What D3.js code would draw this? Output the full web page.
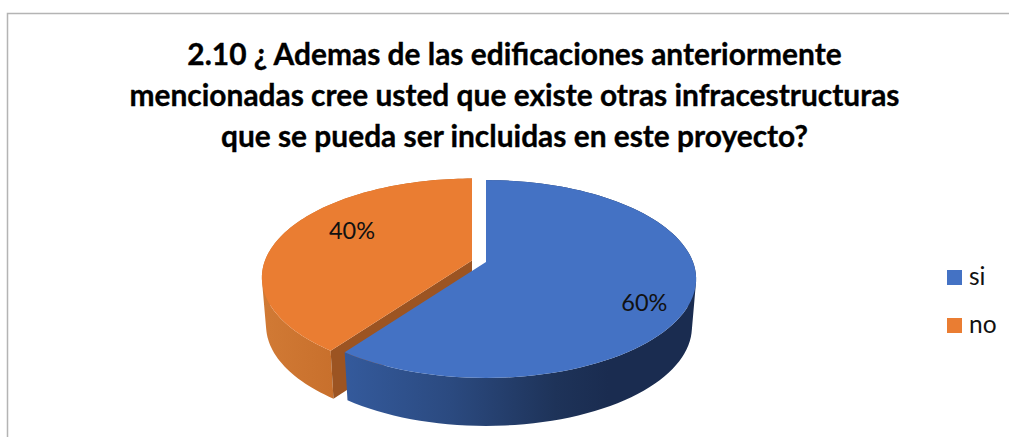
<!DOCTYPE html>
<html><head><meta charset="utf-8">
<script src="https://cdn.jsdelivr.net/npm/d3@7"></script>
<style>html,body{margin:0;padding:0;background:#fff}svg{display:block}</style>
</head><body><svg id="c" width="1009" height="437"></svg>
<script>
const categories = ["si", "no"];
const values = [60, 40];
const labels = ["60%", "40%"];
const colors = ["#4472c4", "#ea7d32"];
const titleLines = [
  "2.10 ¿ Ademas de las edificaciones anteriormente",
  "mencionadas cree usted que existe otras infracestructuras",
  "que se pueda ser incluidas en este proyecto?"
];

const svg = d3.select("#c");
const defs = svg.append("defs");
function grad(id, stops){
  const g = defs.append("linearGradient").attr("id", id);
  stops.forEach(s => g.append("stop").attr("offset", s[0]).attr("stop-color", s[1]));
}
grad("sideBlue", [[0,"#345a9c"],[0.3,"#2b4a80"],[0.6,"#1e3359"],[0.75,"#1a2c50"],[1,"#1a2c50"]]);
grad("sideOrange", [[0,"#d17a35"],[0.5,"#c46b28"],[1,"#b5601f"]]);

// frame
svg.append("path").attr("d","M7.5 437V13.5H1009").attr("fill","none").attr("stroke","#b4b4b4").attr("stroke-width",1.5);

// title
svg.append("g").selectAll("text").data(titleLines).join("text")
  .attr("x",514.5).attr("y",(d,i)=>65+i*41)
  .attr("text-anchor","middle").attr("font-family","Lato")
  .attr("font-weight",700).attr("font-size",29.9).attr("fill","#000")
  .attr("stroke","#000").attr("stroke-width",0.35)
  .text(d=>d);

// perspective pie
const pie = d3.pie().sort(null).startAngle(0).endAngle(2*Math.PI)(values);
const R = {a:207,b:96,k:0.172,depth:48,taper:0.98};
const origin = [{x:486,y:262},{x:472,y:260.5}];
function project(th,o,low){
  const u=Math.sin(th), v=Math.cos(th), w=1+R.k*v, s=low?R.taper:1;
  return [o.x+s*R.a*u/w, o.y-R.b*v/w+(low?R.depth:0)];
}
const line = d3.line();
function arcPts(d,o,low){
  const n=96;
  return d3.range(n+1).map(i=>project(d.startAngle+(d.endAngle-d.startAngle)*i/n,o,low));
}
function sideBand(top,low){
  return d3.range(top.length-1).map(i=>{
    const q=[top[i],top[i+1],low[i+1],low[i]];
    return line(d3.polygonArea(q)<0?q.slice().reverse():q)+"Z";
  }).join("");
}
function drawSlice(i){
  const d=pie[i], o=origin[i], top=arcPts(d,o,false), low=arcPts(d,o,true);
  const g=svg.append("g");
  g.append("path").attr("d",sideBand(top,low))
    .attr("fill",i===0?"url(#sideBlue)":"url(#sideOrange)");
  if(i===1){
    g.append("path").attr("d",line([[o.x,o.y],top[0],low[0],[o.x,o.y+R.depth]])+"Z").attr("fill","#9c5422");
  }
  g.append("path").attr("d",line([[o.x,o.y]].concat(top))+"Z").attr("fill",colors[i]);
}
drawSlice(1);
drawSlice(0);

// value labels
const labelAt=[[644.4,311],[352,239]];
svg.append("g").selectAll("text").data(labels).join("text")
  .attr("x",(d,i)=>labelAt[i][0]).attr("y",(d,i)=>labelAt[i][1])
  .attr("text-anchor","middle").attr("font-family","Lato").attr("font-size",23.5).attr("fill","#111").text(d=>d);

// legend
const ly=d3.scalePoint().domain(categories).range([270,318]);
const lg=svg.append("g").selectAll("g").data(categories).join("g").attr("transform",d=>`translate(947,${ly(d)})`);
lg.append("rect").attr("width",15).attr("height",15).attr("fill",(d,i)=>colors[i]);
lg.append("text").attr("x",22).attr("y",15).attr("font-family","Lato").attr("font-size",24.5).attr("fill","#111").text(d=>d);
</script></body></html>
